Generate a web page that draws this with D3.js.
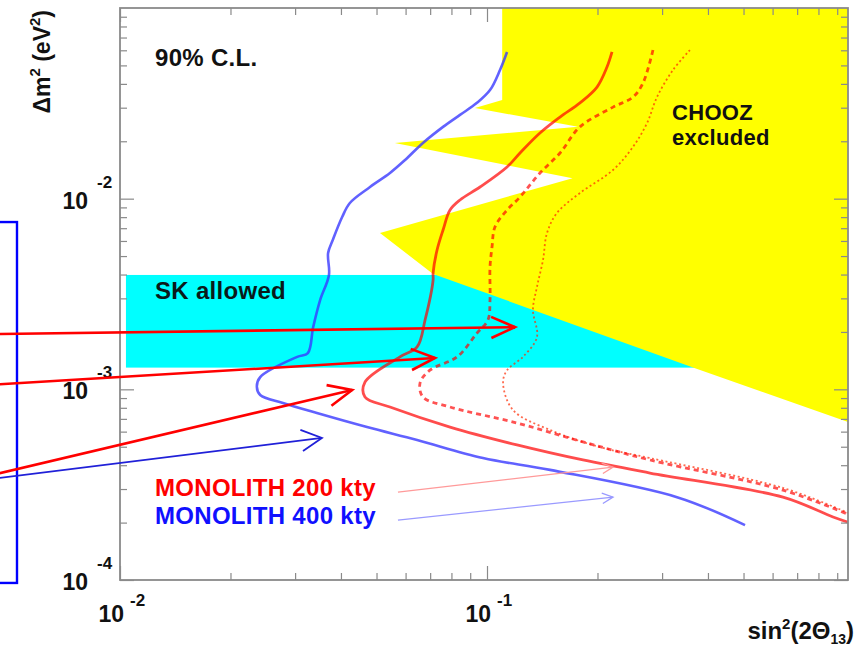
<!DOCTYPE html>
<html><head><meta charset="utf-8">
<script src="https://cdn.jsdelivr.net/npm/d3@7"></script>
<style>
body{margin:0;background:#fff}
svg{display:block}
text{font-family:"Liberation Sans",Arial,Helvetica,sans-serif;font-weight:bold}
</style>
</head><body>
<svg id="chart" width="856" height="649"></svg>
<script>
// ---------- data (sin^2(2θ13), Δm^2 in eV^2) ----------
const xDomain = [0.01, 0.963];
const yDomain = [1e-4, 1e-1];
const xMajorTicks = [0.01, 0.1];
const xMajorExp = ["-2", "-1"];
const yMajorTicks = [1e-4, 1e-3, 1e-2];
const yMajorExp = ["-4", "-3", "-2"];

const monolith400 = [[0.1134,0.0588],[0.1085,0.0473],[0.1019,0.0371],[0.0939,0.0318],[0.0844,0.0275],[0.0759,0.0238],[0.0669,0.0196],[0.0598,0.01595],[0.0544,0.01363],[0.0480,0.01151],[0.0423,0.00949],[0.0403,0.00801],[0.0380,0.00607],[0.0369,0.00519],[0.0371,0.00398],[0.0351,0.00294],[0.0336,0.00212],[0.0325,0.00155],[0.0304,0.00148],[0.0241,0.00116],[0.0236,0.00103],[0.0241,0.000934],[0.0278,0.000848],[0.0344,0.000751],[0.0471,0.000634],[0.0645,0.000542],[0.0975,0.000436],[0.1485,0.000378],[0.3294,0.000272],[0.5047,0.000194]];
const monolith200Solid = [[0.2191,0.0588],[0.2123,0.0490],[0.1994,0.0385],[0.1792,0.0318],[0.1581,0.0268],[0.1394,0.0221],[0.1230,0.01736],[0.1134,0.01466],[0.0957,0.01151],[0.0844,0.00984],[0.0793,0.00872],[0.0759,0.00685],[0.0731,0.00538],[0.0713,0.00407],[0.0713,0.00374],[0.0678,0.00231],[0.0645,0.00167],[0.0579,0.00148],[0.0465,0.00109],[0.0465,0.000912],[0.0544,0.000808],[0.0793,0.000634],[0.1207,0.000511],[0.1826,0.000426],[0.2780,0.000364],[0.6404,0.000272],[0.8766,0.000214],[0.9632,0.000201]];
const monolith200Dashed = [[0.2833,0.0602],[0.2661,0.0404],[0.2499,0.0341],[0.2205,0.0302],[0.1792,0.0238],[0.1581,0.01736],[0.1394,0.01363],[0.1230,0.01020],[0.1134,0.00872],[0.1051,0.00710],[0.1032,0.00558],[0.1019,0.00438],[0.1019,0.00294],[0.1006,0.00231],[0.0939,0.00197],[0.0829,0.00148],[0.0699,0.00126],[0.0657,0.00108],[0.0669,0.000912],[0.0793,0.000808],[0.1207,0.000666],[0.1826,0.000530],[0.2780,0.000426],[0.6404,0.000296],[0.9752,0.000219]];
const monolith200Dotted = [[0.3572,0.0602],[0.3212,0.0473],[0.2905,0.0341],[0.2729,0.0249],[0.2499,0.0187],[0.2205,0.01414],[0.1792,0.01071],[0.1551,0.00841],[0.1457,0.00660],[0.1421,0.00477],[0.1368,0.00344],[0.1334,0.00261],[0.1368,0.00188],[0.1253,0.00148],[0.1134,0.00126],[0.1106,0.00108],[0.1177,0.000779],[0.1485,0.000612],[0.2032,0.000498],[0.2780,0.000436],[0.6404,0.000304],[0.9632,0.000225]];

const choozExcluded = [[0.110,0.1],[0.110,0.0329],[0.0927,0.0299],[0.177,0.0238],[0.0561,0.0196],[0.171,0.0128],[0.0511,0.0066],[0.0713,0.00403],[0.369,0.00129],[0.963,0.000675],[0.963,0.1]];
const skAllowedX = [0.01038, 0.5];
const skAllowedY = [0.0013, 0.00398];

const redArrows = [
  [[0.0039,0.00194],[0.1192,0.00212]],
  [[0.0039,0.00104],[0.0722,0.00146]],
  [[0.0039,0.000334],[0.0429,0.000992]]
];
const blueArrows = [[[0.0039,0.000328],[0.0355,0.000556]]];
const pinkArrows = [[[0.0572,0.000289],[0.2205,0.000391]]];
const lightBlueArrows = [[[0.0572,0.000206],[0.2205,0.000272]]];
const sideBoxX = [0.003, 0.00524];
const sideBoxY = [0.0000965, 0.00754];

// ---------- drawing ----------
const svg = d3.select("#chart");
const L = 120, R = 848, T = 8, B = 580;
const x = d3.scaleLog().domain(xDomain).range([L, R]);
const y = d3.scaleLog().domain(yDomain).range([B, T]);

svg.append("defs").append("clipPath").attr("id","plotclip")
  .append("rect").attr("x",L).attr("y",T).attr("width",R-L).attr("height",B-T);

const plot = svg.append("g").attr("clip-path","url(#plotclip)");

// SK allowed box
plot.append("rect")
  .attr("x", x(skAllowedX[0])).attr("y", y(skAllowedY[1]))
  .attr("width", x(skAllowedX[1]) - x(skAllowedX[0]))
  .attr("height", y(skAllowedY[0]) - y(skAllowedY[1]))
  .attr("fill", "#00ffff");

// CHOOZ excluded
plot.append("path")
  .attr("d", d3.line().x(d=>x(d[0])).y(d=>y(d[1]))(choozExcluded) + "Z")
  .attr("fill", "#ffff00");

// curves
const line = d3.line().x(d=>x(d[0])).y(d=>y(d[1])).curve(d3.curveCatmullRom.alpha(0.5));
plot.append("path").attr("d", line(monolith200Dotted)).attr("fill","none")
  .attr("stroke","#ff2a00").attr("stroke-opacity",0.7).attr("stroke-width",1.8).attr("stroke-dasharray","2,2.6");
plot.append("path").attr("d", line(monolith200Dashed)).attr("fill","none")
  .attr("stroke","#ff0000").attr("stroke-opacity",0.68).attr("stroke-width",2.8).attr("stroke-dasharray","5,4");
plot.append("path").attr("d", line(monolith200Solid)).attr("fill","none")
  .attr("stroke","#ff0000").attr("stroke-opacity",0.7).attr("stroke-width",2.8);
plot.append("path").attr("d", line(monolith400)).attr("fill","none")
  .attr("stroke","#3a3aff").attr("stroke-opacity",0.8).attr("stroke-width",2.6);

// frame and ticks
const axisColor = "#8a8a8a";
const xMinor = [], yMinor = [];
[0.01,0.1].forEach(b=>{ for(let k=2;k<=9;k++){ const v=b*k; if(v<=xDomain[1]) xMinor.push(v);} });
[1e-4,1e-3,1e-2].forEach(b=>{ for(let k=2;k<=9;k++) yMinor.push(b*k); });

function styleAxis(g){
  g.select(".domain").remove();
  g.selectAll("line").attr("stroke", axisColor).attr("stroke-width",1.2);
  g.selectAll("text").remove();
}
const majLen = 14, minLen = 7;
svg.append("g").attr("transform",`translate(0,${B})`).call(d3.axisBottom(x).tickValues(xMinor).tickSizeInner(-minLen).tickSizeOuter(0)).call(styleAxis);
svg.append("g").attr("transform",`translate(0,${B})`).call(d3.axisBottom(x).tickValues(xMajorTicks).tickSizeInner(-majLen).tickSizeOuter(0)).call(styleAxis);
svg.append("g").attr("transform",`translate(0,${T})`).call(d3.axisTop(x).tickValues(xMinor).tickSizeInner(-minLen).tickSizeOuter(0)).call(styleAxis);
svg.append("g").attr("transform",`translate(0,${T})`).call(d3.axisTop(x).tickValues(xMajorTicks).tickSizeInner(-majLen).tickSizeOuter(0)).call(styleAxis);
svg.append("g").attr("transform",`translate(${L},0)`).call(d3.axisLeft(y).tickValues(yMinor).tickSizeInner(-minLen).tickSizeOuter(0)).call(styleAxis);
svg.append("g").attr("transform",`translate(${L},0)`).call(d3.axisLeft(y).tickValues(yMajorTicks).tickSizeInner(-majLen).tickSizeOuter(0)).call(styleAxis);
svg.append("g").attr("transform",`translate(${R},0)`).call(d3.axisRight(y).tickValues(yMinor).tickSizeInner(-minLen).tickSizeOuter(0)).call(styleAxis);
svg.append("g").attr("transform",`translate(${R},0)`).call(d3.axisRight(y).tickValues(yMajorTicks).tickSizeInner(-majLen).tickSizeOuter(0)).call(styleAxis);

svg.append("rect").attr("x",L).attr("y",T).attr("width",R-L).attr("height",B-T)
  .attr("fill","none").attr("stroke",axisColor).attr("stroke-width",1.8);

// tick labels
xMajorTicks.forEach((v,i)=>{
  const px = x(v);
  svg.append("text").attr("x",px+4).attr("y",622).attr("text-anchor","end")
    .attr("font-size",23).attr("fill","#111").text("10");
  svg.append("text").attr("x",px+10).attr("y",606)
    .attr("font-size",17).attr("fill","#111").text(xMajorExp[i]);
});
yMajorTicks.forEach((v,i)=>{
  const py = y(v);
  svg.append("text").attr("x",88).attr("y",py+10).attr("text-anchor","end")
    .attr("font-size",23).attr("fill","#111").text("10");
  svg.append("text").attr("x",97).attr("y",py-11)
    .attr("font-size",17).attr("fill","#111").text(yMajorExp[i]);
});

// axis titles
const yt = svg.append("text").attr("transform","translate(50,10) rotate(-90)")
  .attr("text-anchor","end").attr("font-size",23).attr("fill","#111");
yt.append("tspan").text("\u0394m");
yt.append("tspan").attr("font-size",15).attr("dy",-10).text("2");
yt.append("tspan").attr("dy",10).text(" (eV");
yt.append("tspan").attr("font-size",15).attr("dy",-10).text("2");
yt.append("tspan").attr("dy",10).text(")");

const xt = svg.append("text").attr("x",854).attr("y",639)
  .attr("text-anchor","end").attr("font-size",24).attr("fill","#111");
xt.append("tspan").text("sin");
xt.append("tspan").attr("font-size",15).attr("dy",-10).text("2");
xt.append("tspan").attr("dy",10).text("(2\u0398");
xt.append("tspan").attr("font-size",14).attr("dy",5).text("13");
xt.append("tspan").attr("dy",-5).text(")");

// annotations
const ann = (tx, ty, txt, col, fs) => svg.append("text").attr("x",tx).attr("y",ty)
  .attr("font-size",fs).attr("letter-spacing","0.3px").attr("fill",col).text(txt);
ann(155, 66, "90% C.L.", "#111", 24);
ann(155, 299, "SK allowed", "#0a1a1a", 24);
ann(672, 120, "CHOOZ", "#111", 22);
ann(672, 145, "excluded", "#111", 22);
ann(155, 496, "MONOLITH 200 kty", "#ff0000", 24);
ann(155, 524, "MONOLITH 400 kty", "#1010ff", 24);

// side box
svg.append("rect")
  .attr("x", x(sideBoxX[0])).attr("y", y(sideBoxY[1]))
  .attr("width", x(sideBoxX[1]) - x(sideBoxX[0]))
  .attr("height", y(sideBoxY[0]) - y(sideBoxY[1]))
  .attr("fill","none").attr("stroke","#0000ff").attr("stroke-width",2.4);

// arrows
function drawArrows(list, color, width, headLen, headAng){
  list.forEach(a=>{
    const x1=x(a[0][0]), y1=y(a[0][1]), x2=x(a[1][0]), y2=y(a[1][1]);
    const ang = Math.atan2(y2-y1, x2-x1);
    const h1 = [x2 - headLen*Math.cos(ang-headAng), y2 - headLen*Math.sin(ang-headAng)];
    const h2 = [x2 - headLen*Math.cos(ang+headAng), y2 - headLen*Math.sin(ang+headAng)];
    svg.append("line").attr("x1",x1).attr("y1",y1).attr("x2",x2).attr("y2",y2)
      .attr("stroke",color).attr("stroke-width",width);
    svg.append("path").attr("d",`M${h1[0]},${h1[1]}L${x2},${y2}L${h2[0]},${h2[1]}`)
      .attr("fill","none").attr("stroke",color).attr("stroke-width",width).attr("stroke-linejoin","miter");
  });
}
drawArrows(pinkArrows, "#ff9a9a", 1.3, 12, 0.45);
drawArrows(lightBlueArrows, "#9a9aff", 1.3, 12, 0.45);
drawArrows(blueArrows, "#2020d8", 1.8, 23, 0.48);
drawArrows(redArrows, "#ff0000", 2.6, 26, 0.42);
</script>
</body></html>
